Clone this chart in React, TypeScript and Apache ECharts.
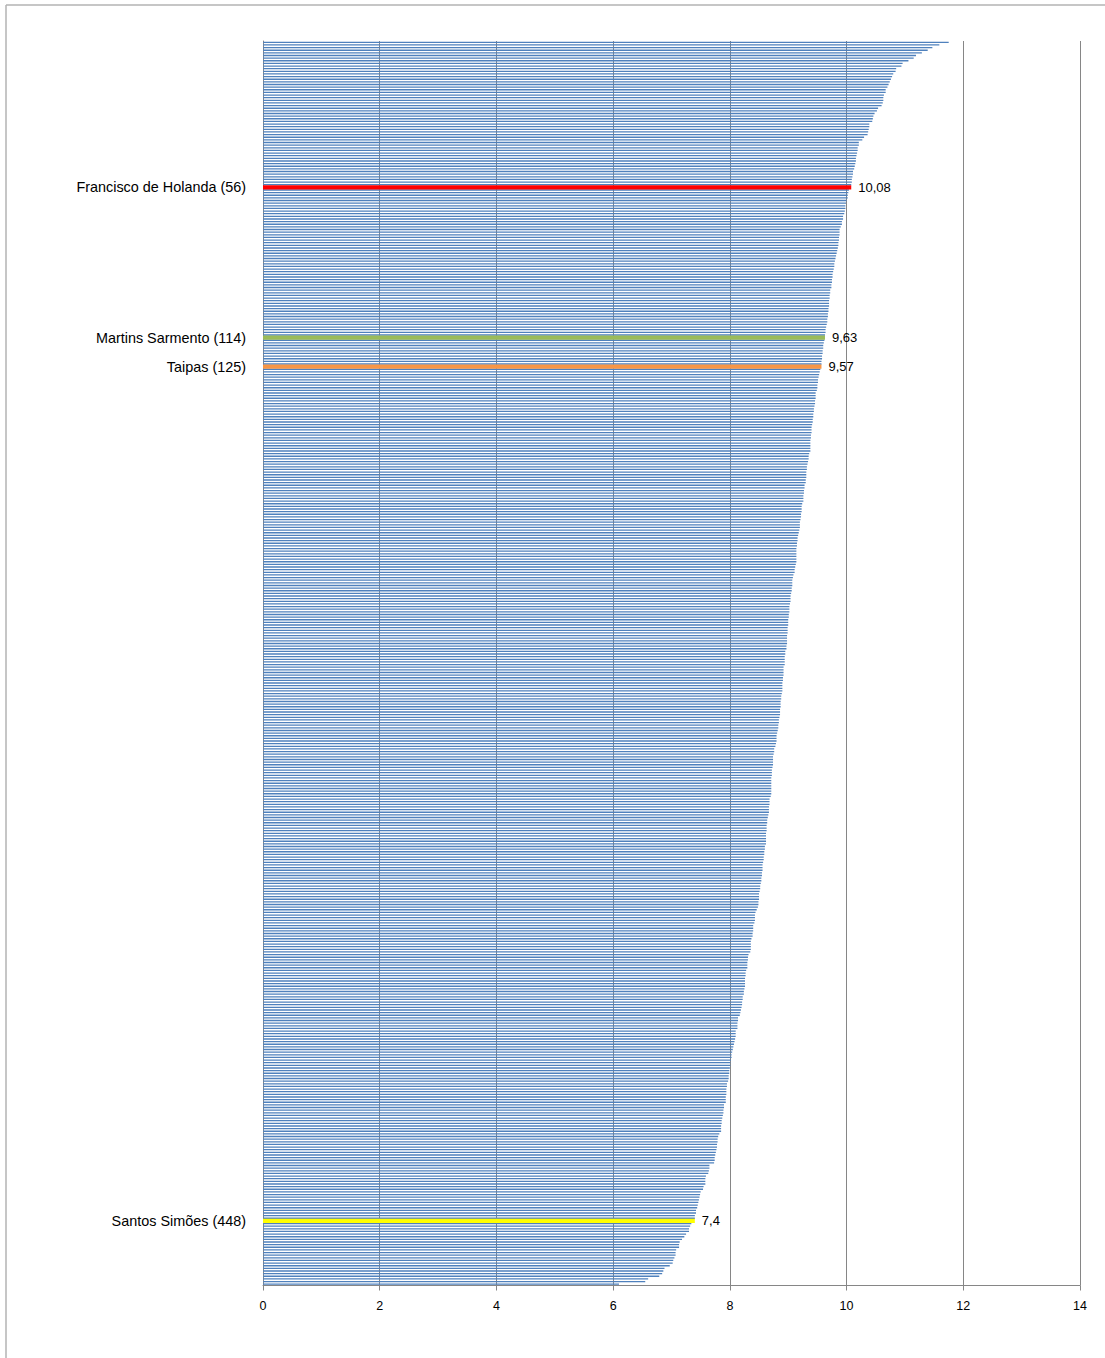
import React, { useEffect, useRef } from "react";
import * as echarts from "echarts";

// Values, schools in ranking order (top bar = best)
const schoolsBeforeHolanda = [
  11.75, 11.59, 11.47, 11.39, 11.29, 11.19, 11.15, 11.06, 10.96, 10.94,
  10.85, 10.84, 10.8, 10.78, 10.76, 10.74, 10.72, 10.7, 10.67, 10.67,
  10.64, 10.63, 10.63, 10.62, 10.6, 10.54, 10.52, 10.48, 10.46, 10.45,
  10.44, 10.39, 10.39, 10.38, 10.37, 10.36, 10.3, 10.27, 10.21, 10.21,
  10.19, 10.19, 10.18, 10.17, 10.16, 10.16, 10.15, 10.14, 10.13, 10.11,
  10.11, 10.1, 10.09, 10.09, 10.08,
];
const schoolsHolandaToSarmento = [
  10.04, 10.03, 10.02, 10.02, 10.0, 9.99, 9.98, 9.98, 9.97, 9.96,
  9.94, 9.94, 9.92, 9.92, 9.9, 9.88, 9.88, 9.88, 9.87, 9.87,
  9.86, 9.86, 9.85, 9.84, 9.83, 9.82, 9.81, 9.8, 9.79, 9.79,
  9.78, 9.77, 9.76, 9.76, 9.75, 9.75, 9.74, 9.74, 9.72,
  9.72, 9.71, 9.71, 9.7, 9.7, 9.7, 9.69, 9.69, 9.68, 9.68,
  9.67, 9.67, 9.66, 9.65, 9.64, 9.64, 9.63,
];
const schoolsSarmentoToTaipas = [9.62, 9.61, 9.6, 9.6, 9.59, 9.59, 9.58, 9.58, 9.57, 9.57];
const schoolsAfterTaipasA = [
  9.55, 9.54, 9.53, 9.52, 9.51, 9.51, 9.5, 9.5, 9.49,
  9.47, 9.47, 9.47, 9.46, 9.46, 9.45, 9.44, 9.44, 9.43, 9.43,
  9.42, 9.42, 9.41, 9.4, 9.4, 9.4, 9.39, 9.39, 9.38, 9.38,
  9.38, 9.38, 9.38, 9.36, 9.35, 9.35, 9.34, 9.33, 9.32, 9.32, 9.31,
  9.31, 9.31, 9.3, 9.3, 9.28, 9.28, 9.27, 9.27, 9.26, 9.26,
  9.26, 9.24, 9.23, 9.23, 9.23, 9.22, 9.22, 9.21, 9.2, 9.2,
  9.2, 9.19, 9.18, 9.17, 9.16, 9.16, 9.15, 9.15, 9.14, 9.14,
  9.14, 9.14, 9.14, 9.14, 9.13, 9.12, 9.11, 9.11, 9.09, 9.08,
  9.07, 9.07, 9.07, 9.06, 9.06, 9.05, 9.04, 9.04, 9.04,
];
const schoolsAfterTaipasB = [
  9.03, 9.02, 9.02, 9.02, 9.01, 9.01, 9.0, 9.0, 9.0, 8.99,
  8.99, 8.99, 8.98, 8.98, 8.98, 8.98, 8.97, 8.97, 8.95, 8.95,
  8.94, 8.94, 8.94, 8.94, 8.92, 8.92, 8.92, 8.92, 8.91, 8.91,
  8.9, 8.9, 8.9, 8.9, 8.89, 8.88, 8.88, 8.87, 8.87, 8.87,
  8.86, 8.86, 8.86, 8.85, 8.84, 8.84, 8.83, 8.83, 8.82, 8.81,
  8.8, 8.8, 8.8, 8.79, 8.78, 8.76, 8.76, 8.75, 8.74, 8.74,
  8.74, 8.74, 8.73, 8.72, 8.72, 8.72, 8.71, 8.71, 8.71, 8.71,
  8.71, 8.71, 8.71, 8.7, 8.68, 8.68, 8.68, 8.67, 8.67, 8.67,
];
const schoolsAfterTaipasC = [
  8.66, 8.65, 8.64, 8.64, 8.63, 8.63, 8.63, 8.62, 8.62, 8.62,
  8.62, 8.62, 8.6, 8.6, 8.59, 8.59, 8.58, 8.58, 8.57, 8.56,
  8.56, 8.56, 8.55, 8.55, 8.54, 8.54, 8.53, 8.52, 8.52, 8.51,
  8.5, 8.5, 8.5, 8.49, 8.49, 8.48, 8.46, 8.44, 8.43, 8.43,
  8.43, 8.42, 8.4, 8.4, 8.4, 8.39, 8.39, 8.37, 8.36, 8.36,
  8.36, 8.36, 8.35, 8.32, 8.31, 8.31, 8.3, 8.3, 8.3, 8.28,
  8.27, 8.27, 8.26, 8.26, 8.26, 8.26, 8.25, 8.24, 8.24, 8.22,
  8.22, 8.21, 8.21, 8.2, 8.19, 8.18, 8.17, 8.14, 8.14, 8.13,
];
const schoolsBeforeSimoes = [
  8.13, 8.13, 8.1, 8.1, 8.1, 8.09, 8.08, 8.07, 8.06, 8.05,
  8.04, 8.03, 8.03, 8.02, 8.01, 8.01, 8.0, 7.99, 7.99, 7.98,
  7.98, 7.97, 7.95, 7.95, 7.94, 7.94, 7.94, 7.93, 7.93, 7.93,
  7.9, 7.9, 7.89, 7.89, 7.88, 7.87, 7.86, 7.86, 7.85, 7.85,
  7.85, 7.82, 7.8, 7.79, 7.79, 7.78, 7.78, 7.77, 7.76, 7.75,
  7.74, 7.74, 7.73, 7.65, 7.65, 7.64, 7.63, 7.59, 7.58, 7.58,
  7.58, 7.55, 7.54, 7.5, 7.49, 7.48, 7.47, 7.46, 7.45, 7.44,
  7.42, 7.42, 7.4, 7.4,
];
const schoolsAfterSimoes = [
  7.34, 7.32, 7.3, 7.3, 7.25, 7.22, 7.18, 7.14, 7.13, 7.13,
  7.08, 7.07, 7.07, 7.05, 7.03, 7.02, 6.97, 6.88, 6.86, 6.84,
  6.79, 6.6, 6.55, 6.1,
];

const highlights = [
  { label: "Francisco de Holanda (56)", value: 10.08, color: "#FF0000" },
  { label: "Martins Sarmento (114)", value: 9.63, color: "#9BBB59" },
  { label: "Taipas (125)", value: 9.57, color: "#F79646" },
  { label: "Santos Simões (448)", value: 7.4, color: "#FFFF00" },
];

const xMin = 0;
const xMax = 14;
const xStep = 2;

// Build the ordered list, remembering where each highlighted school sits
const segments: number[][] = [
  schoolsBeforeHolanda,
  schoolsHolandaToSarmento,
  schoolsSarmentoToTaipas,
  [...schoolsAfterTaipasA, ...schoolsAfterTaipasB, ...schoolsAfterTaipasC, ...schoolsBeforeSimoes],
  schoolsAfterSimoes,
];
const values: number[] = [];
const hlIndex: Record<number, (typeof highlights)[number]> = {};
segments.forEach((seg, i) => {
  values.push(...seg);
  if (i < highlights.length) {
    hlIndex[values.length] = highlights[i];
    values.push(highlights[i].value);
  }
});
const positions = values.map((_, i) => String(i + 1));

const FONT = "'Liberation Sans', Arial, sans-serif";

export default function App() {
  const ref = useRef<HTMLDivElement>(null);

  useEffect(() => {
    if (!ref.current) return;
    const chart = echarts.init(ref.current, undefined, { renderer: "svg" });

    const baseData = values.map((v, i) => (hlIndex[i] ? "-" : v));
    const hlData = values.map((v, i) => {
      const h = hlIndex[i];
      if (!h) return "-";
      return {
        value: v,
        itemStyle: { color: h.color },
        label: {
          show: true,
          position: "right",
          distance: 7,
          formatter: () => String(v).replace(".", ","),
          fontFamily: FONT,
          fontSize: 13,
          color: "#000",
        },
      };
    });

    chart.setOption({
      animation: false,
      backgroundColor: "#fff",
      grid: { left: 263, right: 25, top: 41, bottom: 72.5, containLabel: false },
      xAxis: {
        type: "value",
        min: xMin,
        max: xMax,
        interval: xStep,
        axisLine: { show: true, lineStyle: { color: "#868686", width: 1 } },
        axisTick: { show: true, length: 5, lineStyle: { color: "#868686" } },
        splitLine: { show: true, lineStyle: { color: "#868686", width: 1 } },
        axisLabel: {
          color: "#000",
          fontFamily: FONT,
          fontSize: 12.5,
          margin: 14,
        },
      },
      yAxis: [
        {
          type: "category",
          inverse: true,
          data: positions,
          axisLine: { show: true, lineStyle: { color: "#868686", width: 1 } },
          axisTick: { show: false },
          splitLine: { show: false },
          axisLabel: {
            interval: 0,
            margin: 17,
            color: "#000",
            fontFamily: FONT,
            fontSize: 14.4,
            formatter: (_: string, idx: number) => (hlIndex[idx] ? hlIndex[idx].label : ""),
          },
        },
        {
          type: "category",
          inverse: true,
          data: positions,
          position: "left",
          show: false,
        },
      ],
      graphic: [
        {
          type: "line",
          shape: { x1: 6, y1: 5, x2: 1105, y2: 5 },
          style: { stroke: "#B3B3B3", lineWidth: 1.5 },
          silent: true,
        },
        {
          type: "line",
          shape: { x1: 6, y1: 5, x2: 6, y2: 1358 },
          style: { stroke: "#B3B3B3", lineWidth: 1.5 },
          silent: true,
        },
      ],
      series: [
        {
          type: "bar",
          data: baseData,
          yAxisIndex: 0,
          barCategoryGap: "50%",
          itemStyle: { color: "#4F81BD" },
          silent: true,
        },
        {
          type: "bar",
          data: hlData,
          yAxisIndex: 1,
          barWidth: 4.2,
          z: 5,
          silent: true,
        },
      ],
    });

    return () => chart.dispose();
  }, []);

  return (
    <div
      ref={ref}
      style={{ position: "absolute", left: 0, top: 0, width: 1105, height: 1358 }}
    />
  );
}
